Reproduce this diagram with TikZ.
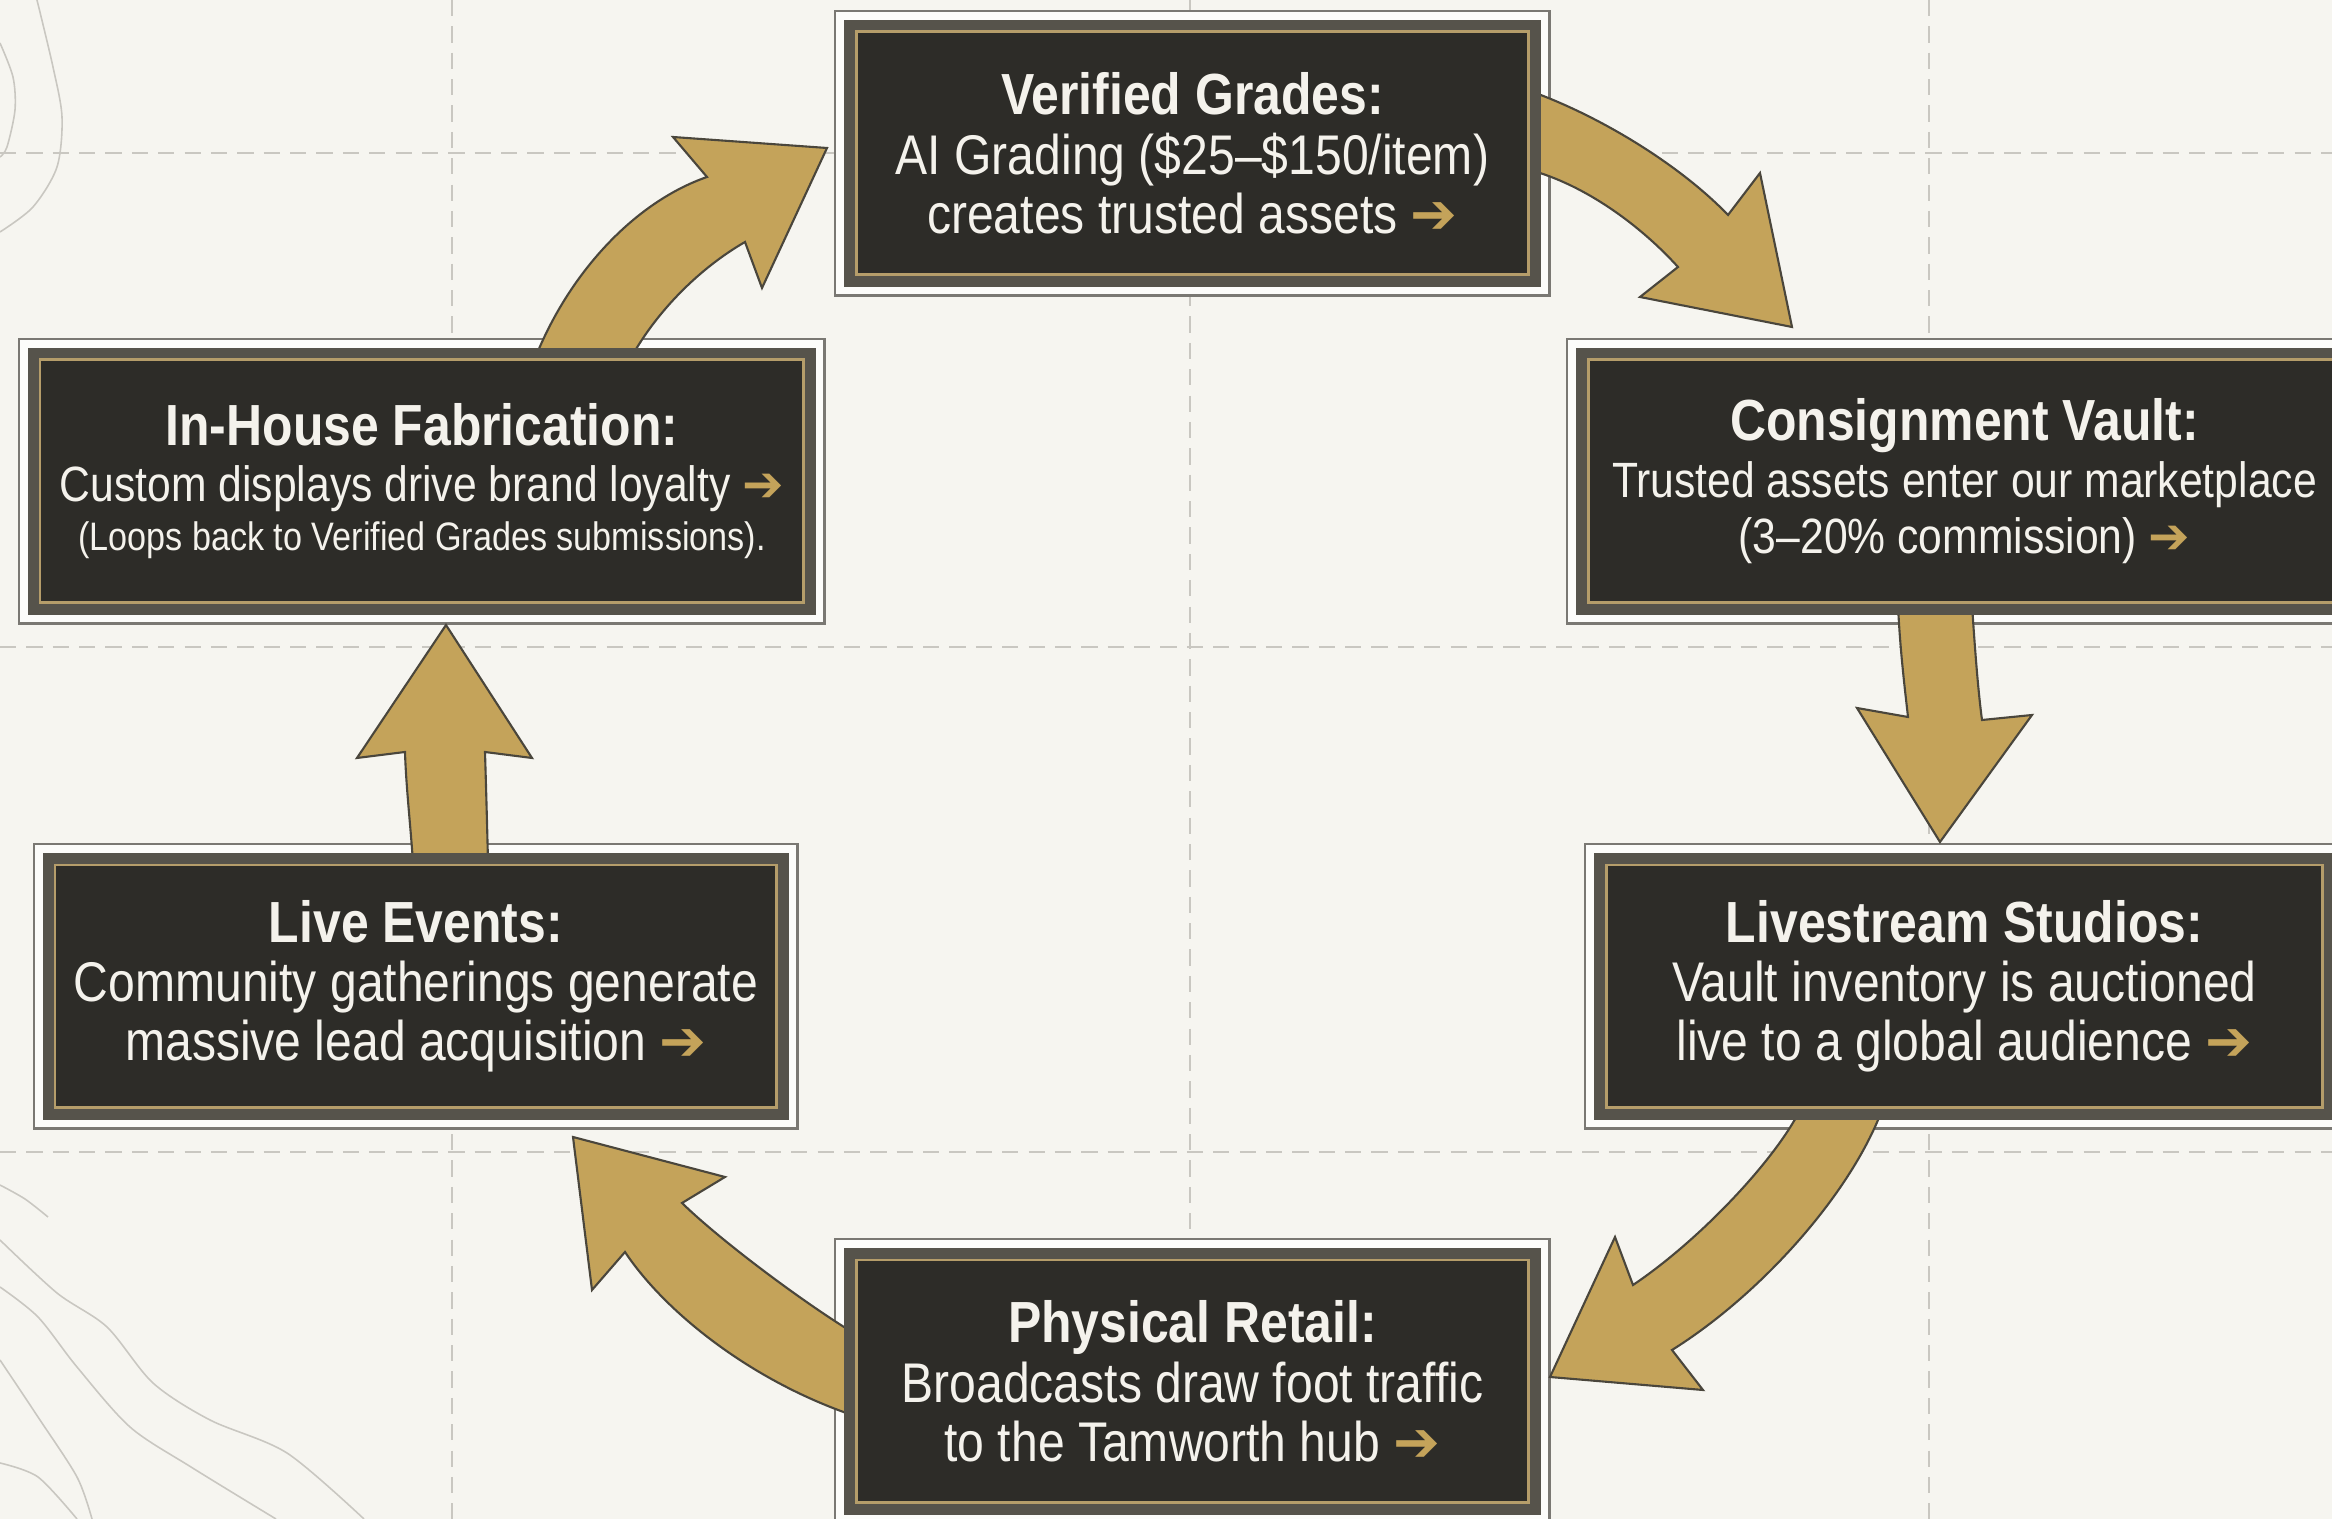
\documentclass[tikz,border=0pt]{standalone}
\usepackage{fontspec}
\setmainfont{Liberation Sans}[FakeStretch=0.86]
\newfontfamily\arrowfont{DejaVu Sans}
\definecolor{bgpaper}{HTML}{F6F5F0}
\definecolor{gridgrey}{HTML}{C9C7C1}
\definecolor{contour}{HTML}{C9C7C1}
\definecolor{framegrey}{HTML}{7A7873}
\definecolor{framewhite}{HTML}{FCFCFA}
\definecolor{bandgrey}{HTML}{56534B}
\definecolor{goldline}{HTML}{B59D6A}
\definecolor{innerfill}{HTML}{2D2C28}
\definecolor{gold}{HTML}{C4A35A}
\definecolor{arrowedge}{HTML}{4A463C}
\definecolor{txtwhite}{HTML}{F4F2EC}
\newcommand\garr{{\arrowfont\bfseries\color{gold}➔}}
\newcommand\ttl{\fontsize{16.5pt}{16.8pt}\selectfont\bfseries}
\newcommand\bodybig{\fontsize{15.9pt}{16.8pt}\selectfont}
\newcommand\bodymid{\fontsize{14.1pt}{16pt}\selectfont}
\newcommand\bodysmall{\fontsize{11.3pt}{12pt}\selectfont}
\begin{document}
\begin{tikzpicture}[x=0.01cm,y=-0.01cm,
  gridline/.style={draw=gridgrey, line width=0.57pt, dash pattern=on 4.6pt off 2.9pt},
  contourline/.style={draw=contour, line width=0.45pt},
  outerbox/.style={draw=framegrey, line width=0.7pt, fill=framewhite, anchor=north west, inner sep=0pt, minimum height=2.84cm},
  bandbox/.style={fill=bandgrey},
  goldbox/.style={draw=goldline, line width=0.85pt, fill=innerfill},
  txt/.style={text=txtwhite, align=center, inner sep=0pt, font=\bodybig},
  garrow/.style={fill=gold, draw=arrowedge, line width=0.6pt, line join=miter}]
\useasboundingbox (0,0) rectangle (2332,1519);
\clip (0,0) rectangle (2332,1519);
\fill[bgpaper] (0,0) rectangle (2332,1519);
% grid
\foreach \gx in {452,1190,1929} \draw[gridline] (\gx,0) -- (\gx,1519);
\foreach \gy in {153,647,1152} \draw[gridline] (0,\gy) -- (2332,\gy);
% contour lines
\draw[contourline] plot[smooth] coordinates {(37,0) (53,67) (62,117) (57,167) (33,207) (0,232)};
\draw[contourline] plot[smooth] coordinates {(0,43) (13,77) (15,110) (7,147) (0,157)};
\draw[contourline] plot[smooth] coordinates {(0,1185) (25,1199) (48,1217)};
\draw[contourline] plot[smooth] coordinates {(0,1240) (57,1293) (107,1327) (153,1383) (210,1420) (287,1453) (364,1519)};
\draw[contourline] plot[smooth] coordinates {(0,1287) (38,1317) (77,1367) (130,1427) (191,1467) (276,1519)};
\draw[contourline] plot[smooth] coordinates {(0,1360) (38,1417) (77,1477) (92,1519)};
\draw[contourline] plot[smooth] coordinates {(0,1463) (38,1477) (77,1519)};
% outer frames
\node[outerbox, minimum width=7.14cm] (VG) at (834,10) {};
\node[outerbox, minimum width=7.94cm] (CV) at (1566,338) {};
\node[outerbox, minimum width=8.05cm] (IH) at (18,338) {};
\node[outerbox, minimum width=7.63cm] (LE) at (33,843) {};
\node[outerbox, minimum width=7.58cm] (LS) at (1584,843) {};
\node[outerbox, minimum width=7.14cm] (PR) at (834,1238) {};
% block arrows
\draw[garrow] (536,356) .. controls (570,272) and (635,202) .. (707,177) -- (673,137) -- (827,148) -- (762,288) -- (745,242) .. controls (700,268) and (658,310) .. (632,356) -- cycle;
\draw[garrow] (1530,91) .. controls (1600,116) and (1680,165) .. (1728,215) -- (1760,173) -- (1792,327) -- (1640,297) -- (1678,267) .. controls (1640,225) and (1585,185) .. (1530,170) -- cycle;
\draw[garrow] (1898,605) .. controls (1900,650) and (1905,690) .. (1908,717) -- (1857,708) -- (1940,842) -- (2032,715) -- (1982,720) .. controls (1978,690) and (1975,650) .. (1972,605) -- cycle;
\draw[garrow] (1800,1110) .. controls (1775,1160) and (1700,1240) .. (1633,1285) -- (1615,1237) -- (1550,1377) -- (1703,1390) -- (1672,1350) .. controls (1760,1295) and (1850,1195) .. (1882,1110) -- cycle;
\draw[garrow] (852,1332) .. controls (800,1300) and (720,1240) .. (682,1203) -- (725,1177) -- (573,1137) -- (592,1290) -- (625,1252) .. controls (665,1312) and (750,1380) .. (852,1415) -- cycle;
\draw[garrow] (413,862) .. controls (410,820) and (406,785) .. (405,752) -- (357,758) -- (446,625) -- (532,758) -- (485,752) .. controls (486,785) and (487,820) .. (488,862) -- cycle;
% inner layers
\foreach \n in {VG,CV,IH,LE,LS,PR} {
  \fill[bandbox] ([shift={(10,10)}]\n.north west) rectangle ([shift={(-10,-10)}]\n.south east);
  \draw[goldbox] ([shift={(22,22)}]\n.north west) rectangle ([shift={(-22,-22)}]\n.south east);
}
% texts
\node[txt] (VGt) at (VG.center) {{\ttl Verified Grades:}\\AI Grading (\$25–\$150/item)\\creates trusted assets \garr};
\node[txt, font=\bodymid] (CVt) at (CV.center) {{\ttl Consignment Vault:}\\Trusted assets enter our marketplace\\(3–20\% commission) \garr};
\node[txt, font=\bodymid] (IHt) at (IH.center) {{\ttl In-House Fabrication:}\\Custom displays drive brand loyalty \garr\\[-2pt]{\bodysmall (Loops back to Verified Grades submissions).}};
\node[txt] (LEt) at (LE.center) {{\ttl Live Events:}\\Community gatherings generate\\massive lead acquisition \garr};
\node[txt] (LSt) at (LS.center) {{\ttl Livestream Studios:}\\Vault inventory is auctioned\\live to a global audience \garr};
\node[txt] (PRt) at (PR.center) {{\ttl Physical Retail:}\\Broadcasts draw foot traffic\\to the Tamworth hub \garr};
\end{tikzpicture}
\end{document}
